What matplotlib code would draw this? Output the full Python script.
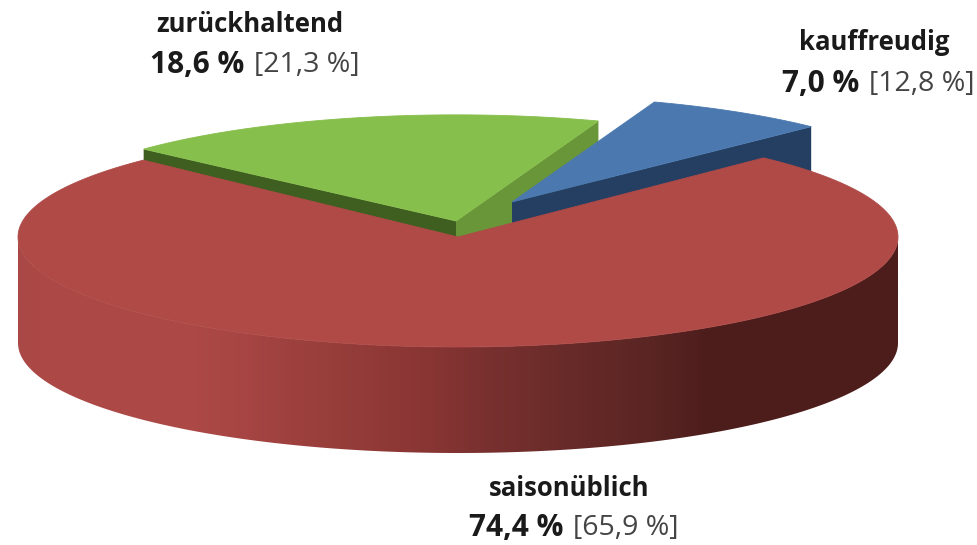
"""3D-Kreisdiagramm: Kaufverhalten (Vorjahr in eckigen Klammern)"""

import matplotlib
import matplotlib.pyplot as plt
import numpy as np
from matplotlib.colors import LinearSegmentedColormap
from matplotlib.patches import Polygon

matplotlib.use("Agg")

labels = ["zurückhaltend", "saisonüblich", "kauffreudig"]
shares = [18.6, 74.4, 7.0]
previous = [21.3, 65.9, 12.8]

START_ANGLE = 70.4
CENTER = (458, 237)
RX, RY = 440, 110
DEPTH = 106

# Lage der Stücke: Mittelpunkt und Radiusfaktor
slice_center = [(456, 221), CENTER, (512, 202)]
slice_scale = [0.965, 1.0, 0.965]
# Perspektive: das rote Stück wirkt am Rand etwas breiter
angle_pad = [(0, 0), (-1.7, 0.8), (0, 0)]
top_colors = ["#86BF4B", "#AF4A47", "#4A78AF"]
start_wall_colors = ["#6A963A", None, "#253F62"]
end_wall_colors = ["#3F5F20", None, None]

# Textlage: Mitte Zeile 1, Trennung Zeile 2, y-Werte
label_pos = [(250, 25, 249, 65), (569, 489, 568, 528), (874, 43, 864, 84)]

# Helligkeitsverlauf der roten Mantelfläche
wall_cmap = LinearSegmentedColormap.from_list(
    "wall",
    [
        (0.00, "#A94846"),
        (0.03, "#AD4946"),
        (0.20, "#AC4946"),
        (0.26, "#A64543"),
        (0.31, "#9E413E"),
        (0.38, "#943C39"),
        (0.47, "#883533"),
        (0.525, "#7A3130"),
        (0.62, "#692B29"),
        (0.72, "#5A2523"),
        (0.78, "#4E1E1D"),
        (1.00, "#4C1D1B"),
    ],
)


def arc_points(center, scale, a0, a1, n=200):
    t = np.radians(np.linspace(a0, a1, n))
    return np.column_stack(
        [center[0] + RX * scale * np.cos(t), center[1] - RY * scale * np.sin(t)]
    )


def wall_polygon(top_line):
    lower = top_line[::-1] + np.array([0, DEPTH])
    return np.vstack([top_line, lower])


def pct(value):
    return f"{value:.1f}".replace(".", ",") + " %"


plt.rcParams["font.family"] = ["Open Sans", "DejaVu Sans"]
fig = plt.figure(figsize=(9.78, 5.45), dpi=100)
ax = fig.add_axes([0, 0, 1, 1])
ax.set_xlim(0, 978)
ax.set_ylim(545, 0)
ax.axis("off")

edges = START_ANGLE + np.cumsum([0] + shares) * 3.6

# Hintere Stücke zuerst: grün, dann blau, zuletzt rot darüber
for i in [0, 2, 1]:
    a0 = edges[i] + angle_pad[i][0]
    a1 = edges[i + 1] + angle_pad[i][1]
    c = np.array(slice_center[i], dtype=float)
    s = slice_scale[i]
    arc = arc_points(c, s, a0, a1)

    if start_wall_colors[i]:
        line = np.vstack([c, arc[0]])
        ax.add_patch(Polygon(wall_polygon(line), closed=True, fc=start_wall_colors[i], ec="none"))
    if end_wall_colors[i]:
        line = np.vstack([c, arc[-1]])
        ax.add_patch(Polygon(wall_polygon(line), closed=True, fc=end_wall_colors[i], ec="none"))

    if i == 1:
        # Mantelfläche vorne, Verlauf von links nach rechts
        front = arc_points(c, s, 180, 360)
        wall = Polygon(wall_polygon(front), closed=True, fc="none", ec="none")
        ax.add_patch(wall)
        grad = np.linspace(0, 1, 512).reshape(1, -1)
        img = ax.imshow(
            grad,
            cmap=wall_cmap,
            aspect="auto",
            extent=[c[0] - RX, c[0] + RX, c[1] + RY + DEPTH, c[1]],
            interpolation="bilinear",
        )
        img.set_clip_path(wall)

    ax.add_patch(
        Polygon(np.vstack([c, arc]), closed=True, fc=top_colors[i], ec=top_colors[i], lw=0.6, zorder=3)
    )

ax.set_xlim(0, 978)
ax.set_ylim(545, 0)

for name, share, prev, pos in zip(labels, shares, previous, label_pos):
    xc, y1, xs, y2 = pos
    ax.text(xc, y1, name, ha="center", va="center", fontsize=18.5, fontweight="bold", color="#1A1A1A", zorder=5)
    ax.text(xs - 5, y2, pct(share), ha="right", va="center", fontsize=21.5, fontweight="bold", color="#1A1A1A", zorder=5)
    ax.text(xs + 5, y2, f"[{pct(prev)}]", ha="left", va="center", fontsize=20.5, color="#444444", zorder=5)

fig.savefig("out.png", dpi=100)
plt.close(fig)
